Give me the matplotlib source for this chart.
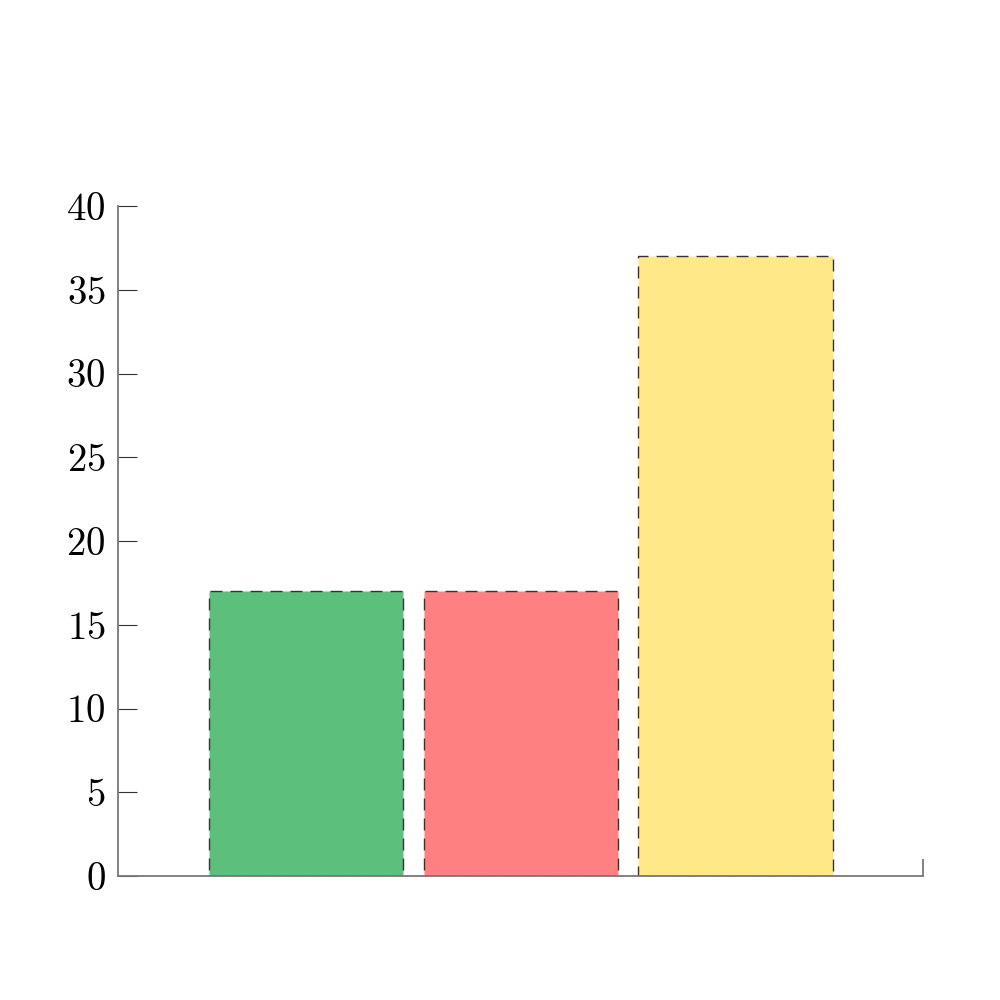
import matplotlib
matplotlib.use("Agg")
import matplotlib.pyplot as plt

plt.rcParams['font.family'] = 'cmr10'
plt.rcParams['axes.formatter.use_mathtext'] = True

categories = ['A', 'B', 'C']
values = [17, 17, 37]
colors = ['#5cbf7c', '#ff8080', '#ffe888']
yticks = [0, 5, 10, 15, 20, 25, 30, 35, 40]

fig = plt.figure(figsize=(10, 10), dpi=100)
ax = fig.add_axes([0.118, 0.124, 0.805, 0.67])

pos = list(range(len(categories)))
ax.bar(pos, values, width=0.905, color=colors, edgecolor='#333333',
       linewidth=1.0, linestyle=(0, (8.6, 5.8)))

ax.set_xlim(-0.876, 2.874)
ax.set_ylim(0, 40)
ax.set_yticks(yticks)
ax.set_xticks([2.874])
ax.set_xticklabels([''])

for s in ['top', 'right']:
    ax.spines[s].set_visible(False)
for s in ['left', 'bottom']:
    ax.spines[s].set_color('#777777')
    ax.spines[s].set_linewidth(1.3)

ax.tick_params(axis='y', direction='in', length=14, width=0.8, color='#333333',
               labelsize=28, pad=9)
ax.tick_params(axis='x', direction='in', length=12, width=1.3, color='#777777')

fig.savefig('out.png')
